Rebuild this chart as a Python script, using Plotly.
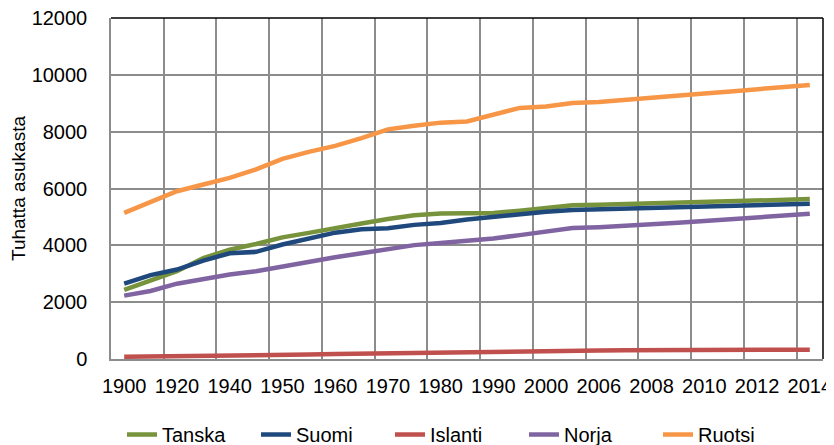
import plotly.graph_objects as go

# Väkiluku (tuhatta asukasta)
years = ['1900', '1910', '1920', '1930', '1940', '1945', '1950', '1955', '1960',
         '1965', '1970', '1975', '1980', '1985', '1990', '1995', '2000', '2005',
         '2006', '2007', '2008', '2009', '2010', '2011', '2012', '2013', '2014']

tanska = [2430, 2757, 3090, 3551, 3844, 4045, 4281, 4439, 4585, 4767, 4929, 5060, 5122,
          5113, 5135, 5216, 5330, 5411, 5427, 5447, 5476, 5511, 5535, 5561, 5581, 5602, 5627]
suomi = [2656, 2950, 3148, 3463, 3720, 3770, 4030, 4235, 4446, 4564, 4598, 4720, 4788,
         4911, 4998, 5117, 5181, 5246, 5266, 5289, 5313, 5339, 5363, 5388, 5414, 5439, 5461]
islanti = [78, 85, 94, 109, 121, 128, 143, 158, 176, 192, 204, 218, 227,
           241, 254, 267, 279, 294, 300, 308, 316, 319, 318, 318, 320, 322, 326]
norja = [2230, 2392, 2650, 2814, 2973, 3091, 3265, 3429, 3581, 3723, 3876, 4007, 4086,
         4153, 4241, 4359, 4478, 4606, 4640, 4681, 4737, 4799, 4858, 4920, 4986, 5051, 5109]
ruotsi = [5140, 5522, 5905, 6142, 6371, 6674, 7042, 7290, 7498, 7773, 8081, 8208, 8318,
          8358, 8591, 8837, 8883, 9011, 9048, 9113, 9183, 9256, 9341, 9416, 9483, 9556, 9645]

series = [
    ('Tanska', tanska, '#77933C'),
    ('Suomi', suomi, '#1F497D'),
    ('Islanti', islanti, '#C0504D'),
    ('Norja', norja, '#8064A2'),
    ('Ruotsi', ruotsi, '#F79646'),
]

x = list(range(len(years)))
font = 'Liberation Sans, Arial, sans-serif'

fig = go.Figure()
for name, vals, color in series:
    fig.add_trace(go.Scatter(
        x=x, y=vals, mode='lines', name=name,
        line=dict(color=color, width=4.5),
    ))

grid = '#8c8c8c'

# the page body adds an 8px offset, so the figure is 8px smaller than the window
fig.update_layout(
    width=826, height=437,
    margin=dict(l=103, r=11, t=10, b=86, autoexpand=False),
    paper_bgcolor='white',
    plot_bgcolor='white',
    font=dict(family=font, size=20, color='black'),
    showlegend=True,
    legend=dict(
        orientation='h',
        xref='container', x=0.138, xanchor='left',
        yref='container', y=0.024, yanchor='middle',
        entrywidth=89,
        font=dict(size=20),
    ),
    xaxis=dict(
        range=[-0.5, len(years) - 0.5],
        tickmode='array',
        tickvals=x[::2],
        ticktext=years[::2],
        showgrid=False,
        showline=True, linecolor=grid, linewidth=1.5,
        ticks='',
        ticklabelstandoff=8,
        ticklabeloverflow='allow',
        zeroline=False,
        automargin=False,
        minor=dict(tick0=-0.5, dtick=2, showgrid=True, gridcolor=grid, gridwidth=1.5),
    ),
    yaxis=dict(
        range=[0, 12000],
        dtick=2000,
        tickformat='d',
        showgrid=True, gridcolor=grid, gridwidth=1.5,
        showline=True, linecolor=grid, linewidth=1.5,
        ticks='',
        ticklabelstandoff=18,
        ticklabeloverflow='allow',
        zeroline=False,
        automargin=False,
        title=dict(text='Tuhatta asukasta', standoff=8, font=dict(size=19)),
    ),
)

# musta reunus ylä- ja oikealla
fig.add_shape(type='line', xref='paper', yref='paper', x0=0, x1=1, y0=1, y1=1,
              line=dict(color='black', width=1.5))
fig.add_shape(type='line', xref='paper', yref='paper', x0=1, x1=1, y0=0, y1=1,
              line=dict(color='black', width=1.5))

fig.write_html('out.html')
